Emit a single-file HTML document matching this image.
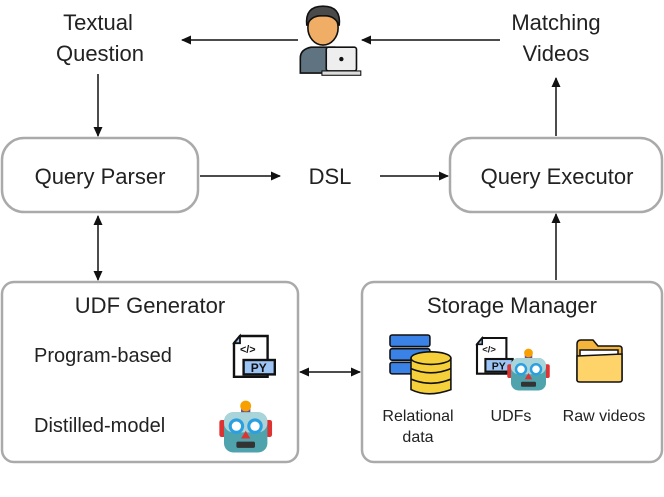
<!DOCTYPE html>
<html><head><meta charset="utf-8"><style>
html,body{margin:0;padding:0;background:#fff;}
svg{display:block;}
text{font-family:"Liberation Sans",sans-serif;fill:#222;}
</style></head><body>
<svg width="664" height="497" viewBox="0 0 664 497" xmlns="http://www.w3.org/2000/svg">
<defs>
<marker id="a" markerWidth="10" markerHeight="10" refX="9" refY="5" orient="auto-start-reverse" markerUnits="userSpaceOnUse">
<path d="M0,0.5 L10,5 L0,9.5 Z" fill="#111"/></marker>
<g id="robot">
<rect x="-3" y="9" width="4" height="11" rx="1.5" fill="#d33"/>
<rect x="27" y="9" width="4" height="11" rx="1.5" fill="#d33"/>
<rect x="11" y="1" width="6" height="4" fill="#6a4a9a"/>
<circle cx="14" cy="0" r="3.5" fill="#f7a000"/>
<rect x="0" y="4" width="28" height="26" rx="6" fill="#4fa3ad"/>
<rect x="0" y="4" width="28" height="13" rx="6" fill="#a9d4da"/>
<circle cx="8" cy="13" r="4" fill="#fff" stroke="#2aa0e0" stroke-width="2"/>
<circle cx="20" cy="13" r="4" fill="#fff" stroke="#2aa0e0" stroke-width="2"/>
<path d="M14,16 L11,21 L17,21 Z" fill="#d33"/>
<rect x="8" y="23" width="12" height="4" rx="1" fill="#333"/>
</g>
<g id="py">
<path d="M5,0 L28,0 L28,34 L0,34 L0,6 Z" fill="#fff" stroke="#111" stroke-width="2"/>
<path d="M0,6 L5,6 L5,0 Z" fill="#9cc4f5" stroke="#111" stroke-width="1.5"/>
<text x="5" y="14" font-size="9" font-weight="bold" style="fill:#111">&lt;/&gt;</text>
<rect x="8" y="20" width="26" height="12" fill="#9cc4f5" stroke="#111" stroke-width="2"/>
<text x="14" y="30" font-size="10" font-weight="bold" style="fill:#111">PY</text>
</g>
</defs>

<g fill="none" stroke="#aaa" stroke-width="2.5">
<rect x="2" y="138" width="196" height="74" rx="22"/>
<rect x="450" y="138" width="212" height="74" rx="22"/>
<rect x="2" y="282" width="296" height="180" rx="12"/>
<rect x="362" y="282" width="300" height="180" rx="12"/>
</g>

<g stroke="#111" stroke-width="1.5" fill="none">
<line x1="298" y1="40" x2="182" y2="40" marker-end="url(#a)"/>
<line x1="500" y1="40" x2="362" y2="40" marker-end="url(#a)"/>
<line x1="98" y1="74" x2="98" y2="136" marker-end="url(#a)"/>
<line x1="200" y1="176" x2="280" y2="176" marker-end="url(#a)"/>
<line x1="380" y1="176" x2="448" y2="176" marker-end="url(#a)"/>
<line x1="556" y1="136" x2="556" y2="78" marker-end="url(#a)"/>
<line x1="556" y1="280" x2="556" y2="214" marker-end="url(#a)"/>
<line x1="98" y1="216" x2="98" y2="280" marker-start="url(#a)" marker-end="url(#a)"/>
<line x1="300" y1="372" x2="360" y2="372" marker-start="url(#a)" marker-end="url(#a)"/>
</g>

<g font-size="22" text-anchor="middle">
<text x="98" y="30">Textual</text>
<text x="100" y="61">Question</text>
<text x="556" y="30">Matching</text>
<text x="556" y="61">Videos</text>
<text x="100" y="184">Query Parser</text>
<text x="330" y="184">DSL</text>
<text x="557" y="184">Query Executor</text>
<text x="150" y="313">UDF Generator</text>
<text x="512" y="313">Storage Manager</text>
</g>
<g font-size="20">
<text x="34" y="362">Program-based</text>
<text x="34" y="432">Distilled-model</text>
</g>
<g font-size="16" text-anchor="middle">
<text x="418" y="421">Relational</text>
<text x="418" y="442">data</text>
<text x="511" y="421">UDFs</text>
<text x="604" y="421">Raw videos</text>
</g>

<!-- user -->
<g transform="translate(296,4) scale(1.08)">
<path d="M4,64 L4,50 Q4,42 14,40 L36,40 Q44,42 44,50 L44,64 Z" fill="#5f7480" stroke="#111" stroke-width="1.5"/>
<ellipse cx="25" cy="22" rx="14" ry="16" fill="#f0ad66" stroke="#111" stroke-width="1.5"/>
<path d="M10,20 Q8,2 25,2 Q42,2 40,20 Q36,10 25,11 Q14,10 10,20 Z" fill="#4a4a4a" stroke="#111" stroke-width="1.5"/>
<rect x="28" y="40" width="28" height="22" rx="2" fill="#eee" stroke="#111" stroke-width="1.5"/>
<circle cx="42" cy="51" r="2" fill="#111"/>
<rect x="24" y="62" width="36" height="4" fill="#ddd" stroke="#111" stroke-width="1"/>
</g>

<!-- UDF gen icons -->
<use href="#py" transform="translate(234,336) scale(1.2)"/>
<use href="#robot" transform="translate(224,406) scale(1.55)"/>

<!-- relational data -->
<g transform="translate(390,335) scale(1.05)" stroke="#111" stroke-width="1.5">
<rect x="0" y="0" width="38" height="11" rx="2" fill="#3b82e6"/>
<rect x="0" y="13" width="38" height="11" rx="2" fill="#3b82e6"/>
<rect x="0" y="26" width="38" height="11" rx="2" fill="#3b82e6"/>
<path d="M20,22 L20,52 Q36,60 58,52 L58,22 Z" fill="#f5d03a"/>
<ellipse cx="39" cy="22" rx="19" ry="6" fill="#f5d03a"/>
<path d="M20,32 Q39,40 58,32 M20,42 Q39,50 58,42" fill="none"/>
</g>
<!-- UDFs -->
<use href="#py" transform="translate(477,338) scale(1.05)"/>
<use href="#robot" transform="translate(511,353) scale(1.25)"/>
<!-- folder -->
<g transform="translate(577,340)" stroke="#111" stroke-width="1.5">
<path d="M0,4 Q0,0 4,0 L16,0 L21,6 L42,6 Q45,6 45,9 L45,40 L0,40 Z" fill="#f5b43c"/>
<rect x="3" y="10" width="38" height="8" fill="#fff"/>
<path d="M0,16 L45,14 L45,40 Q45,42 42,42 L3,42 Q0,42 0,40 Z" fill="#fdd36a"/>
</g>
</svg>
</body></html>
